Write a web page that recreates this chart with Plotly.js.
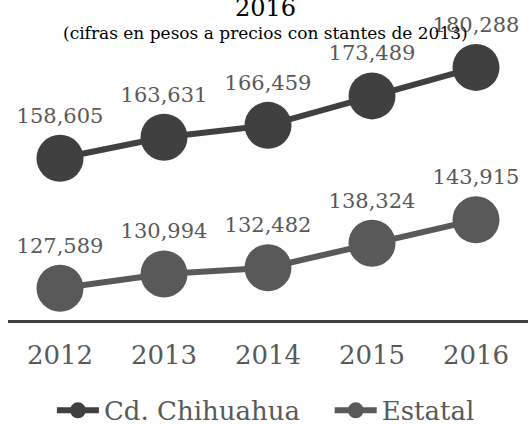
<!DOCTYPE html>
<html>
<head>
<meta charset="utf-8">
<script src="https://cdn.plot.ly/plotly-3.0.1.min.js"></script>
<style>html,body{margin:0;padding:0;background:#fff;}#chart{width:528px;height:424px;}</style>
</head>
<body>
<div id="chart"></div>
<script>
const years = ['2012', '2013', '2014', '2015', '2016'];
const chihuahua = [158605, 163631, 166459, 173489, 180288];
const estatal = [127589, 130994, 132482, 138324, 143915];
const seriesNames = ['Cd. Chihuahua\u00a0\u00a0\u00a0', 'Estatal'];
const titleText = '2016';
const subtitleText = '(cifras en pesos a precios con stantes de 2013)';

const FONT = 'DejaVu Serif, serif';
const fmt = v => v.toLocaleString('en-US');

function trace(name, vals, color) {
  return {
    type: 'scatter', mode: 'lines+markers+text', name: name,
    x: years, y: vals,
    text: vals.map(fmt), textposition: 'top center',
    textfont: {family: FONT, size: 21, color: '#595959'},
    line: {color: color, width: 6},
    marker: {color: color, size: 47},
    cliponaxis: false, hoverinfo: 'skip'
  };
}

const data = [trace(seriesNames[0], chihuahua, '#404040'), trace(seriesNames[1], estatal, '#595959')];

const layout = {
  width: 528, height: 424,
  margin: {l: 8, r: 0, t: 2, b: 104, autoexpand: false},
  paper_bgcolor: '#ffffff', plot_bgcolor: '#ffffff',
  font: {family: FONT, color: '#595959'},
  showlegend: true,
  legend: {orientation: 'h', x: 0.496, xanchor: 'center', yref: 'container', y: 0.032, yanchor: 'middle',
           font: {family: FONT, size: 26, color: '#595959'}, itemwidth: 42},
  xaxis: {type: 'category', range: [-0.5, 4.5], showgrid: false, zeroline: false,
          showline: true, linecolor: '#404040', linewidth: 3, ticks: '',
          tickfont: {family: FONT, size: 26, color: '#595959'}, ticklabelstandoff: 10, fixedrange: true},
  yaxis: {range: [120000, 195900], visible: false, showgrid: false, zeroline: false, fixedrange: true},
  annotations: [
    {text: titleText, xref: 'paper', yref: 'paper', x: 0.496, y: 1, yshift: -6, yanchor: 'middle',
     showarrow: false, font: {family: FONT, size: 24, color: '#000000'}},
    {text: subtitleText, xref: 'paper', yref: 'paper', x: 0.496, y: 1, yshift: -31, yanchor: 'middle',
     showarrow: false, font: {family: FONT, size: 17, color: '#000000'}}
  ]
};

Plotly.newPlot('chart', data, layout, {displayModeBar: false, staticPlot: true});
</script>
</body>
</html>
